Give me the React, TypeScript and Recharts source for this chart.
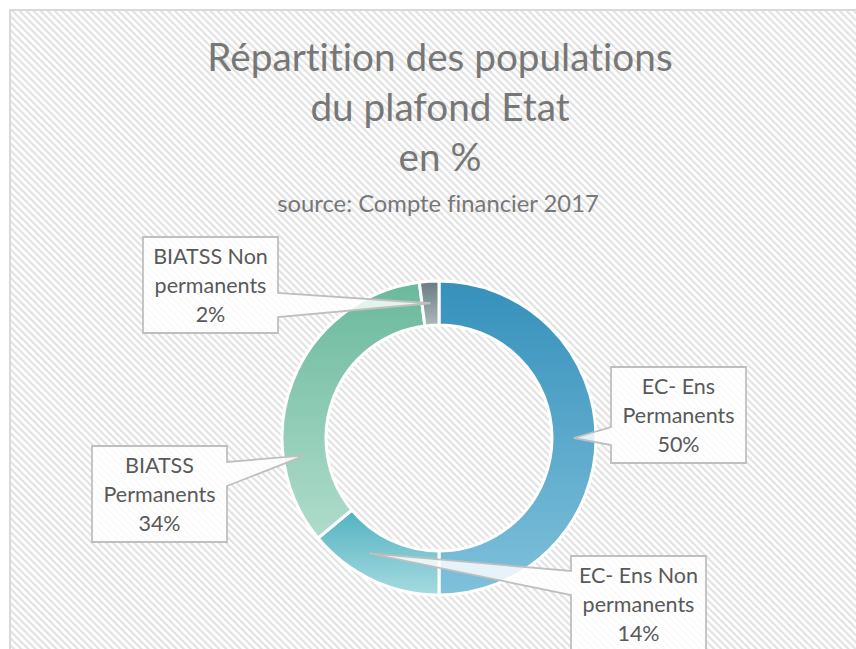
import React from 'react';
import { PieChart, Pie, Cell } from 'recharts';

// ---- data ----
const categories = ['EC- Ens Permanents', 'EC- Ens Non permanents', 'BIATSS Permanents', 'BIATSS Non permanents'];
const values = [50, 14, 34, 2];
const labelLines = [
  ['EC- Ens', 'Permanents'],
  ['EC- Ens Non', 'permanents'],
  ['BIATSS', 'Permanents'],
  ['BIATSS Non', 'permanents'],
];
const titleLines = ['Répartition des populations', 'du plafond Etat', 'en %'];
const subtitle = 'source: Compte financier 2017';

// ---- styles / layout ----
const sliceGradients = [
  ['#3590BB', '#80C1DB'],
  ['#52B3C1', '#A6DAE0'],
  ['#6AB99C', '#B0DCCC'],
  ['#677B80', '#ACB9BB'],
];
const W = 856;
const H = 649;
const CX = 439;
const CY = 438;
const R_OUT = 157;
const R_IN = 113;
const FONT = 'Lato, "Open Sans", sans-serif';
const NOLIG: React.CSSProperties = { fontVariantLigatures: 'none', fontFeatureSettings: '"liga" 0' };
// callout boxes, relative to the pie centre
const callouts = [
  { dx: 172, dy: -71, side: 'left', b1: 60, b2: 78, shift: 0 },
  { dx: 132, dy: 118, side: 'left', b1: 15, b2: 39, shift: -6 },
  { dx: -347, dy: 8, side: 'right', b1: 16, b2: 40, shift: 29 },
  { dx: -296, dy: -201, side: 'right', b1: 56, b2: 80, shift: 0 },
];
const BOX_W = 135;
const BOX_H = 96;

const data = categories.map((name, i) => ({ name, value: values[i] }));

const RAD = Math.PI / 180;

function Callout(props: any) {
  const { cx, cy, midAngle, innerRadius, outerRadius, index, percent } = props;
  const c = callouts[index];
  const x = cx + c.dx;
  const y = cy + c.dy;
  const a = (midAngle + c.shift) * RAD;
  const r = (innerRadius + outerRadius) / 2;
  const tx = cx + r * Math.cos(a);
  const ty = cy - r * Math.sin(a);
  let d: string;
  if (c.side === 'left') {
    d = `M${x},${y} L${x + BOX_W},${y} L${x + BOX_W},${y + BOX_H} L${x},${y + BOX_H} L${x},${y + c.b2} L${tx},${ty} L${x},${y + c.b1} Z`;
  } else {
    d = `M${x},${y} L${x + BOX_W},${y} L${x + BOX_W},${y + c.b1} L${tx},${ty} L${x + BOX_W},${y + c.b2} L${x + BOX_W},${y + BOX_H} L${x},${y + BOX_H} Z`;
  }
  const lines = [...labelLines[index], `${Math.round(percent * 100)}%`];
  return (
    <g>
      <path d={d} fill="rgba(255,255,255,0.82)" stroke="#BFBFBF" strokeWidth={1.8} strokeLinejoin="miter" />
      {lines.map((t, k) => (
        <text
          key={k}
          x={x + BOX_W / 2}
          y={y + 19 + k * 29}
          textAnchor="middle"
          dominantBaseline="central"
          fontFamily={FONT}
          fontSize={21.5}
          fill="#595959"
          style={NOLIG}
        >
          {t}
        </text>
      ))}
    </g>
  );
}

export default function App() {
  return (
    <div style={{ position: 'absolute', left: 0, top: 0, width: W, height: H, background: '#fff', overflow: 'hidden' }}>
      <svg width={W} height={H} style={{ position: 'absolute', left: 0, top: 0 }}>
        <defs>
          <pattern id="hatch" patternUnits="userSpaceOnUse" width={5} height={5} patternTransform="rotate(-45)">
            <rect x={0} y={0} width={2.2} height={5} fill="#E2E2E2" />
          </pattern>
        </defs>
        <rect x={10} y={10} width={W} height={H} fill="#fff" stroke="#D9D9D9" strokeWidth={2} />
        <rect x={11} y={11} width={W} height={H} fill="url(#hatch)" />
        {titleLines.map((t, i) => (
          <text key={i} x={440} y={71 + i * 50} textAnchor="middle" fontFamily={FONT} fontSize={38.7} fill="#777777" style={NOLIG}>
            {t}
          </text>
        ))}
        <text x={438} y={212} textAnchor="middle" fontFamily={FONT} fontSize={23.8} fill="#777777" style={NOLIG}>
          {subtitle}
        </text>
      </svg>
      <div style={{ position: 'absolute', left: 0, top: 0 }}>
        <PieChart width={W} height={H} margin={{ top: 0, right: 0, bottom: 0, left: 0 }}>
          <defs>
            {sliceGradients.map((g, i) => (
              <linearGradient key={i} id={`slice${i}`} x1="0" y1="0" x2="0" y2="1">
                <stop offset="0%" stopColor={g[0]} />
                <stop offset="100%" stopColor={g[1]} />
              </linearGradient>
            ))}
          </defs>
          <Pie
            data={data}
            dataKey="value"
            nameKey="name"
            cx={CX}
            cy={CY}
            innerRadius={R_IN}
            outerRadius={R_OUT}
            startAngle={90}
            endAngle={-270}
            stroke="#ffffff"
            strokeWidth={3}
            isAnimationActive={false}
            labelLine={false}
            label={(p: any) => <Callout {...p} />}
          >
            {data.map((_, i) => (
              <Cell key={i} fill={`url(#slice${i})`} />
            ))}
          </Pie>
        </PieChart>
      </div>
    </div>
  );
}
